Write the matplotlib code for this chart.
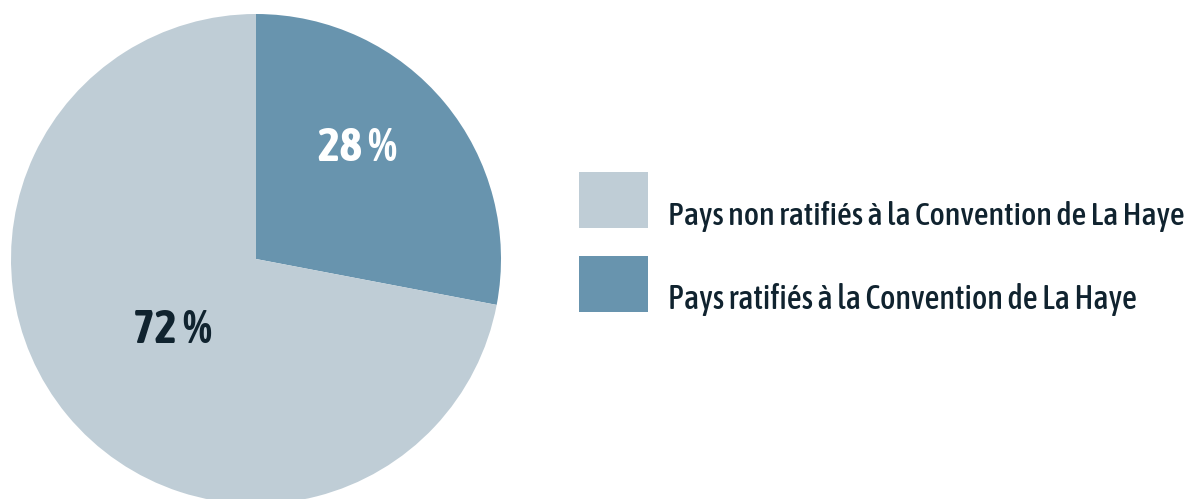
import matplotlib
matplotlib.use("Agg")
import matplotlib.pyplot as plt
from matplotlib.patches import Rectangle
from matplotlib import font_manager as fm

categories = ["Pays ratifiés à la Convention de La Haye",
              "Pays non ratifiés à la Convention de La Haye"]
values = [28, 72]
colors = ["#6894ae", "#bfcdd6"]
label_colors = ["white", "#10232f"]


def is_cond(f):
    return ("Condensed" in f.name or "Narrow" in f.name
            or str(f.stretch) in ("condensed", "semi-condensed", "500", "600", "700"))


def wnum(w):
    m = {"normal": 400, "regular": 400, "book": 400, "medium": 500, "semibold": 600,
         "demibold": 600, "bold": 700, "heavy": 800, "black": 900, "light": 300}
    return w if isinstance(w, int) else m.get(str(w).lower(), 400)


cond = [f for f in fm.fontManager.ttflist if is_cond(f) and f.style == "normal"]
bold_names = sorted({f.name for f in cond if wnum(f.weight) >= 600})
all_names = sorted({f.name for f in cond})
FONT = bold_names[0] if bold_names else (all_names[0] if all_names else "DejaVu Sans")
STRETCH = "condensed"

W, H = 1190, 499
fig = plt.figure(figsize=(W / 100, H / 100), dpi=100)
ax = fig.add_axes([0, 0, 1, 1])

cx, cy, r = 256, H - 259, 245
ax.pie(values, colors=colors, startangle=90, counterclock=False,
       center=(cx, cy), radius=r, frame=True, wedgeprops=dict(linewidth=0))
ax.set_xlim(0, W)
ax.set_ylim(0, H)
ax.set_aspect("equal")
ax.axis("off")

renderer = fig.canvas.get_renderer()


def fit(t, target_w):
    w = t.get_window_extent(renderer).width
    t.set_fontsize(t.get_fontsize() * target_w / w)


label_pos = [(357, H - 161), (172, H - 343)]
for (x, y), v, c in zip(label_pos, values, label_colors):
    t = ax.text(x, y, f"{v} %", ha="center", va="baseline", color=c,
                fontsize=29, fontweight="bold", fontstyle="normal",
                family=FONT, fontstretch=STRETCH)
    fit(t, 79)

order = [1, 0]
rows_y = [H - 200, H - 284]
targets = [517, 468]
for i, yc, tw in zip(order, rows_y, targets):
    ax.add_patch(Rectangle((579, yc - 28), 69, 56, facecolor=colors[i], linewidth=0))
    t = ax.text(668, yc - 25, categories[i], ha="left", va="baseline",
                color="#10232f", fontsize=21, fontweight="medium", fontstyle="normal",
                family=FONT, fontstretch=STRETCH)
    fit(t, tw)

fig.savefig("out.png", dpi=100)
